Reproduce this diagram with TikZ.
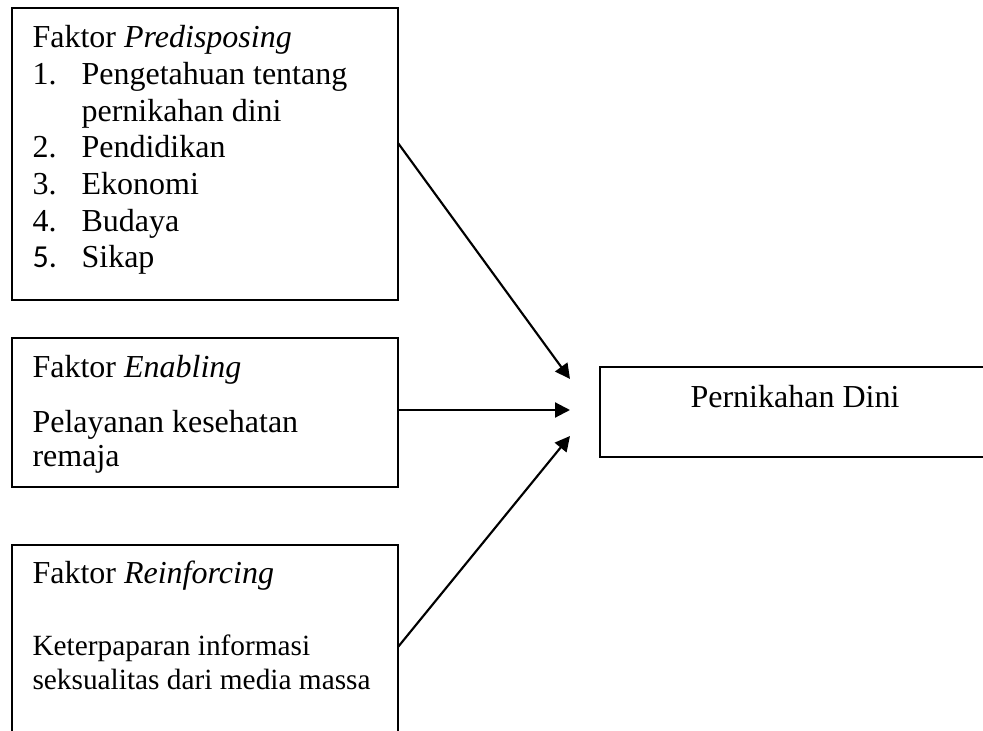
\documentclass[tikz,border=0pt]{standalone}
\usepackage{fontspec}
\setmainfont{Liberation Serif}
\newfontfamily\calibri{Carlito}
\usetikzlibrary{positioning,fit,arrows.meta}

\begin{document}
\begin{tikzpicture}[x=0.375pt, y=-0.375pt,
	kotak/.style={draw, line width=0.6pt, inner sep=0pt},
	teks/.style={anchor=base west, inner sep=0pt, font=\fontsize{12}{13.75}\selectfont},
	panah/.style={-{Triangle[length=5.6pt,width=5.6pt]}, line width=0.8pt}]
			\useasboundingbox (0,0) rectangle (983,731);
			% kotak faktor
			\node [kotak, fit={(12,8) (398,300)}] (pred) {};
			\node [kotak, fit={(12,338) (398,487)}] (enab) {};
			\node [kotak, fit={(12,545) (398,780)}] (reinf) {};
			\node [kotak, fit={(600,367) (1010,457)}] (hasil) {};
			% isi kotak
			\node [teks] (isipred) at (32,48) {\begin{tabular}[t]{@{}p{18.4pt}@{}l@{}}
				\multicolumn{2}{@{}l@{}}{Faktor \textit{Predisposing}}\\
				1. & Pengetahuan tentang\\
				   & pernikahan dini\\
				2. & Pendidikan\\
				3. & Ekonomi\\
				4. & Budaya\\
				{\calibri 5.} & Sikap
			\end{tabular}};
			\node [teks] (judulenab) at (32,377) {Faktor \textit{Enabling}};
			\node [teks, font=\fontsize{12}{13.1}\selectfont] (isienab) at (32,432) {\begin{tabular}[t]{@{}l@{}}
				Pelayanan kesehatan\\
				remaja
			\end{tabular}};
			\node [teks] (judulreinf) at (32,583) {Faktor \textit{Reinforcing}};
			\node [teks, font=\fontsize{11}{13.1}\selectfont] (isireinf) at (32,655) {\begin{tabular}[t]{@{}l@{}}
				Keterpaparan informasi\\
				seksualitas dari media massa
			\end{tabular}};
			\node [teks] (judulhasil) at (690,408) {Pernikahan Dini};
			% panah
			\coordinate (s1) at (398,143);
			\coordinate (s3) at (398,647);
			\coordinate (t1) at (570,379);
			\coordinate (t2) at (570,410);
			\coordinate (t3) at (570,436);
			\draw [panah] (s1) -- (t1);
			\draw [panah] (enab.east |- t2) -- (t2);
			\draw [panah] (s3) -- (t3);
		\end{tikzpicture}
\end{document}
